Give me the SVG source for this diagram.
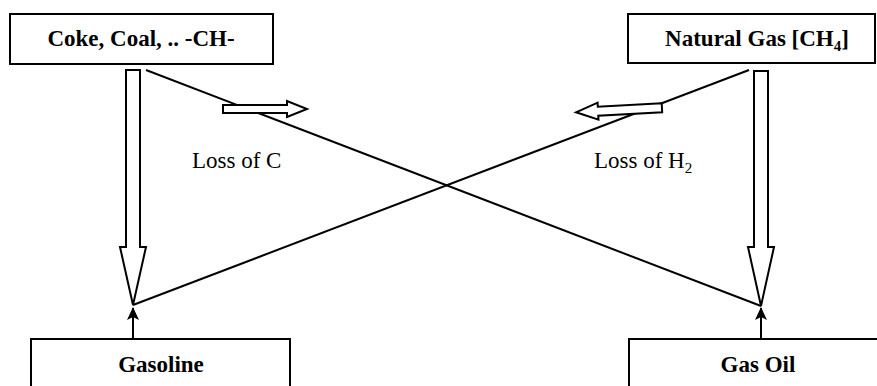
<svg xmlns="http://www.w3.org/2000/svg" width="877" height="386" viewBox="0 0 877 386">
<style>
.box{fill:#fff;stroke:#000;stroke-width:2}
.lbl{font-family:"Liberation Serif","Times New Roman",serif;font-weight:bold;font-size:23px;text-anchor:middle;fill:#000}
.note{font-family:"Liberation Serif","Times New Roman",serif;font-size:23px;fill:#000}
.ln{stroke:#000;stroke-width:2;fill:none}
.hollow{fill:#fff;stroke:#000;stroke-width:2;stroke-linejoin:miter}
</style>
<defs>
<marker id="ah" viewBox="0 0 13 12" refX="12" refY="6" markerWidth="13" markerHeight="12" markerUnits="userSpaceOnUse" orient="auto">
<path d="M13,6 L0,0 L3,6 L0,12 Z" fill="#000"/>
</marker>
</defs>
<rect width="877" height="386" fill="#fff"/>
<g id="connectors">
<line class="ln" x1="146" y1="70" x2="761" y2="306"/>
<line class="ln" x1="749" y1="70" x2="133" y2="305"/>
<path class="hollow" d="M126,70 L140,70 L140,247 L146,247 L133,305 L120,247 L126,247 Z"/>
<path class="hollow" d="M754,71 L768,71 L768,247 L774,247 L761,306 L748,247 L754,247 Z"/>
<path class="hollow" d="M223,105 L287,105 L287,101 L307,109 L287,117 L287,113 L223,113 Z"/>
<path class="hollow" transform="rotate(-3 620 110)" d="M662,105.5 L598,105.5 L598,101.5 L576,110 L598,118.5 L598,114.5 L662,114.5 Z"/>
<line class="ln" x1="133" y1="339" x2="133" y2="308" marker-end="url(#ah)"/>
<line class="ln" x1="761" y1="339" x2="761" y2="308" marker-end="url(#ah)"/>
</g>
<g id="coke">
<rect class="box" x="10" y="14" width="263" height="50"/>
<text class="lbl" x="141" y="46">Coke, Coal, .. -CH-</text>
</g>
<g id="natgas">
<rect class="box" x="628" y="14" width="247" height="49"/>
<text class="lbl" x="757" y="46">Natural Gas [CH<tspan font-size="15" dy="5">4</tspan><tspan dy="-5">]</tspan></text>
</g>
<g id="gasoline">
<rect class="box" x="31" y="339" width="259" height="60"/>
<text class="lbl" x="161" y="372">Gasoline</text>
</g>
<g id="gasoil">
<rect class="box" x="629" y="339" width="260" height="60"/>
<text class="lbl" x="758" y="372">Gas Oil</text>
</g>
<g id="notes">
<text class="note" x="192" y="168">Loss of C</text>
<text class="note" x="594" y="168">Loss of H<tspan font-size="15" dy="5">2</tspan></text>
</g>
</svg>
